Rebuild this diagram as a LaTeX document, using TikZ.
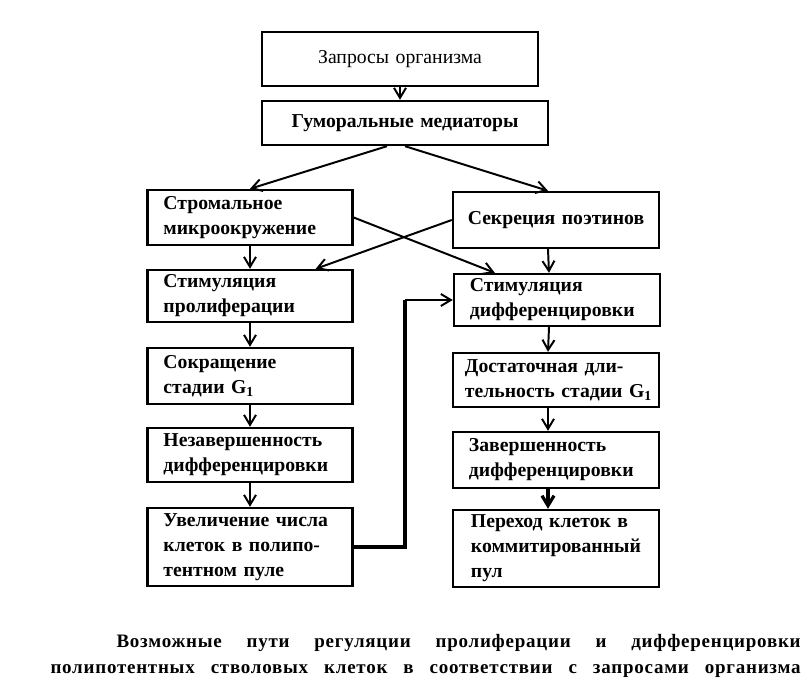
\documentclass[tikz,border=0pt]{standalone}
\usepackage{fontspec}
\setmainfont{Liberation Serif}
\usetikzlibrary{arrows.meta}
\tikzset{
	blok/.style={draw, line width=1.7pt, inner ysep=0pt, font=\fontsize{14}{17.8}\selectfont\bfseries},
	lbox/.style={blok, align=left, inner xsep=0.4cm, text width=4.325cm},
	rbox/.style={blok, align=left, inner xsep=0.3cm, text width=4.55cm},
	cbox/.style={blok, align=center, inner xsep=0.3cm},
	arr/.style={->, line width=1.4pt},
	elbow/.style={line width=2.5pt},
	capline/.style={inner sep=0pt, anchor=base east, font=\fontsize{13.5}{16}\selectfont\bfseries\addfontfeature{LetterSpace=4}}
}

\begin{document}
\begin{tikzpicture}[x=0.025cm, y=-0.025cm, >={Straight Barb[length=2.5mm,width=3mm]}]
		%%%%% START %%%%%
		\useasboundingbox (0,0) rectangle (811,696);
		
		\node[cbox, font=\fontsize{14}{17.8}\selectfont, text width=6.3cm, minimum height=1.35cm] (zap) at (400,59) {Запросы организма};
		\node[cbox, text width=6.55cm, minimum height=1.1cm] (gum) at (405,123) {Гуморальные медиаторы};
		
		\node[lbox, minimum height=1.375cm] (strom) at (250,217.5) {Стромальное\\микроокружение};
		\node[rbox, align=center, minimum height=1.4cm] (sekr) at (556,220) {Секреция поэтинов};
		
		\node[lbox, minimum height=1.3cm] (stprol) at (250,296) {Стимуляция\\пролиферации};
		\node[rbox, minimum height=1.3cm] (stdif) at (557,300) {\hspace{0.1cm}Стимуляция\\\hspace{0.1cm}дифференцировки};
		
		\node[lbox, minimum height=1.4cm] (sokr) at (250,376) {Сокращение\\стадии G\textsubscript{1}};
		\node[rbox, minimum height=1.35cm] (dost) at (556,380) {\mbox{Достаточная дли-}\\\mbox{тельность стадии G\textsubscript{1}}};
		
		\node[lbox, minimum height=1.35cm] (nezav) at (250,455) {Незавершенность\\дифференцировки};
		\node[rbox, minimum height=1.4cm] (zav) at (556,460) {\hspace{0.1cm}Завершенность\\\hspace{0.1cm}дифференцировки};
		
		\node[lbox, minimum height=1.95cm] (uvel) at (250,547) {Увеличение числа\\клеток в полипо-\\тентном пуле};
		\node[rbox, minimum height=1.925cm] (perehod) at (556,548.5) {\hspace{0.15cm}Переход клеток в\\\hspace{0.15cm}коммитированный\\\hspace{0.15cm}пул};
		
		% arrows
		\draw[arr] (zap.south) -- (zap.south |- gum.north);
		\draw[arr] ([xshift=-0.45cm]gum.south) -- (strom.north);
		\draw[arr] (gum.south) -- ([xshift=-0.2cm]sekr.north);
		
		\draw[arr] (strom.south) -- (stprol.north);
		\draw[arr] ([xshift=-0.2cm]sekr.south) -- ([xshift=-0.2cm]stdif.north);
		\draw[arr] (strom.east) -- ([xshift=1.05cm]stdif.north west);
		\draw[arr] (sekr.west) -- ([xshift=-0.95cm]stprol.north east);
		
		\draw[arr] (stprol.south) -- (sokr.north);
		\draw[arr] (sokr.south) -- (nezav.north);
		\draw[arr] (nezav.south) -- (uvel.north);
		
		\draw[arr] ([xshift=-0.2cm]stdif.south) -- ([xshift=-0.2cm]dost.north);
		\draw[arr] ([xshift=-0.2cm]dost.south) -- ([xshift=-0.2cm]zav.north);
		\draw[arr, line width=2.3pt] ([xshift=-0.2cm]zav.south) -- ([xshift=-0.2cm]perehod.north);
		
		\coordinate (knee) at (405,301);
		\draw[elbow] (uvel.east) -| (knee |- stdif.west);
		\draw[arr] (knee |- stdif.west) -- (stdif.west);
		
		% caption
		\node[capline] (cap1) at (801,647) {\makebox[17.1cm][s]{Возможные пути регуляции пролиферации и дифференцировки}};
		\node[capline] (cap2) at (801,673) {\makebox[18.75cm][s]{полипотентных стволовых клеток в соответствии с запросами организма}};
		
		%%%%% END %%%%%
	\end{tikzpicture}
\end{document}
